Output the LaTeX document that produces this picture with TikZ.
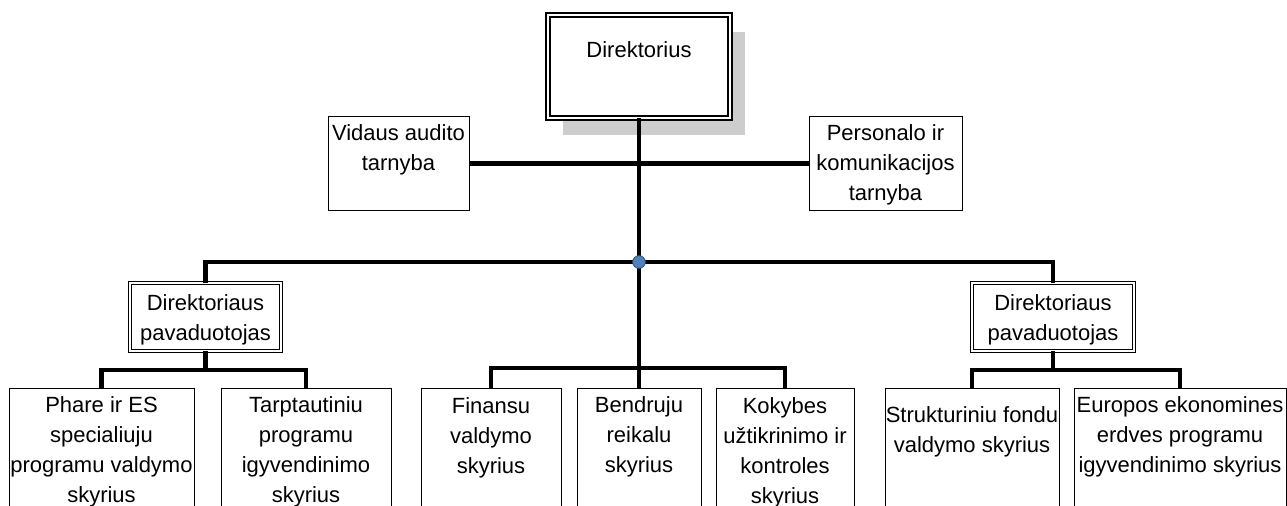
\documentclass[tikz,border=0pt]{standalone}
\usepackage{fontspec}
\setmainfont{Liberation Sans}
\usetikzlibrary{shadows}
\definecolor{hubblue}{HTML}{4F81BD}
\definecolor{hubedge}{HTML}{2F528F}
\definecolor{shadowgray}{HTML}{CDCDCD}
\begin{document}
\begin{tikzpicture}[x=0.75pt,y=-0.75pt,
  every node/.style={inner sep=0pt, outer sep=0pt},
  sz/.style 2 args={minimum width=#1*0.75pt, minimum height=#2*0.75pt},
  unit/.style={draw, line width=0.75pt, fill=white, anchor=north west},
  dunit/.style={draw, line width=0.8pt, double, double distance=1.5pt, fill=white, anchor=north west},
  lbl/.style={anchor=north, align=center, font=\fontsize{16.5}{22.5}\selectfont},
  link/.style={line width=3.2pt},
  hubdot/.style={circle, draw=hubedge, fill=hubblue, line width=0.6pt, minimum size=9.5pt},
]
\useasboundingbox (0,0) rectangle (1287,506);
\clip (0,0) rectangle (1287,506);

% top level
\node[dunit, double distance=2.2pt, sz={182}{103},
      drop shadow={shadow xshift=11.25pt, shadow yshift=-13pt, fill=shadowgray, opacity=1}]
      (dir) at (548,15) {};
\node[lbl] (dirT) at ([yshift=-20.25pt]dir.north) {Direktorius};

% staff units
\node[unit, sz={141}{93}] (vid) at (328,117) {};
\node[lbl] (vidT) at ([yshift=-6pt]vid.north) {Vidaus audito\\tarnyba};
\node[unit, sz={153}{93}] (pers) at (809,117) {};
\node[lbl] (persT) at ([yshift=-6pt]pers.north) {Personalo ir\\komunikacijos\\tarnyba};

% deputies
\node[dunit, sz={151}{68}] (depL) at (130,283) {};
\node[lbl] (depLT) at ([yshift=-9pt]depL.north) {Direktoriaus\\pavaduotojas};
\node[dunit, sz={162}{68}] (depR) at (972,283) {};
\node[lbl] (depRT) at ([yshift=-9pt]depR.north) {Direktoriaus\\pavaduotojas};

% departments
\node[unit, sz={185}{150}] (phare) at (9,388) {};
\node[lbl] (phareT) at ([yshift=-6.75pt]phare.north) {Phare ir ES\\specialiuju\\programu valdymo\\skyrius};
\node[unit, sz={170}{150}] (tarpt) at (221,388) {};
\node[lbl] (tarptT) at ([yshift=-6.75pt]tarpt.north) {Tarptautiniu\\programu\\igyvendinimo\\skyrius};
\node[unit, sz={140}{150}] (fin) at (421,388) {};
\node[lbl] (finT) at ([yshift=-7.5pt]fin.north) {Finansu\\valdymo\\skyrius};
\node[unit, sz={124}{150}] (bend) at (577,388) {};
\node[lbl] (bendT) at ([yshift=-6.75pt]bend.north) {Bendruju\\reikalu\\skyrius};
\node[unit, sz={138}{150}] (kok) at (716,388) {};
\node[lbl] (kokT) at ([yshift=-7.5pt]kok.north) {Kokybes\\užtikrinimo ir\\kontroles\\skyrius};
\node[unit, sz={174}{150}] (str) at (885,388) {};
\node[lbl] (strT) at ([yshift=-14.25pt]str.north) {Strukturiniu fondu\\valdymo skyrius};
\node[unit, sz={212}{150}] (eur) at (1074,388) {};
\node[lbl] (eurT) at ([yshift=-6.75pt]eur.north) {Europos ekonomines\\erdves programu\\igyvendinimo skyrius};

% connectors
\coordinate (hub) at (639,262);
\draw[link] (dir.south) -- (bend.north);
\draw[link] (vid.east) -- (pers.west);
\draw[link] (depL.north) |- (hub) -| (depR.north);

\coordinate (jL) at (depL.south |- 0,370);
\draw[link] (depL.south) -- (jL);
\draw[link] (phare.north) |- (jL) -| (tarpt.north);

\coordinate (jM) at (bend.north |- 0,368);
\draw[link] (fin.north) |- (jM) -| (kok.north);

\coordinate (jR) at (depR.south |- 0,370);
\draw[link] (depR.south) -- (jR);
\draw[link] (str.north) |- (jR) -| (eur.north);

\node[hubdot] (hubnode) at (hub) {};
\end{tikzpicture}
\end{document}
